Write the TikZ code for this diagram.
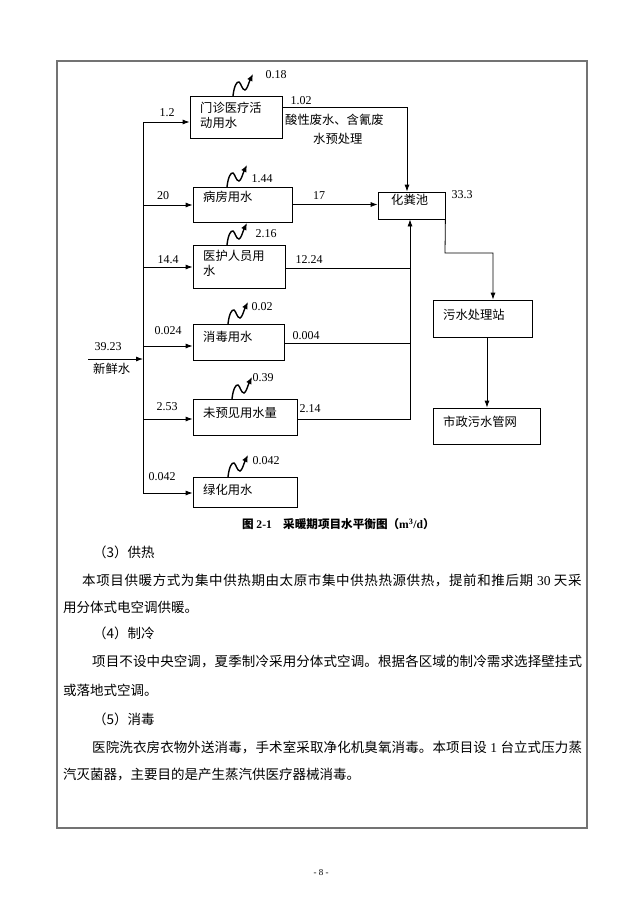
\documentclass[tikz,border=0pt]{standalone}
\usepackage{fontspec}
\setmainfont{Liberation Serif}
\newfontfamily\cjk{Noto Sans CJK SC}
\usetikzlibrary{arrows.meta}
\makeatletter
\newcommand\spr[1]{\@tfor\sprch:=#1\do{\sprch\hskip0pt plus 1fil}}
\makeatother
\newcommand\mybox[5]{\node[box, minimum width={(#4-#2)*1pt}, minimum height={(#5-#3)*1pt}] (#1) at ({(#2+#4)/2},{(#3+#5)/2}) {};}
\newcommand\evap[2]{\begin{scope}[shift={(#1,#2)}]\draw[evapline] (0,0) .. controls (1,-10) and (4,-15) .. (6,-14) .. controls (8,-13) and (9,-6) .. (12,-6) .. controls (14,-6) and (16,-14) .. (20,-22);\end{scope}}
\begin{document}
\begin{tikzpicture}[x=1pt,y=-1pt,
  box/.style={draw, line width=0.8pt, inner sep=0pt},
  conn/.style={line width=0.8pt},
  arr/.style={conn, -{Latex[length=7pt,width=5pt]}},
  evapline/.style={line width=1.4pt, -{Latex[length=7pt,width=6pt]}},
  num/.style={inner sep=0pt, font=\fontsize{12}{14}\selectfont},
  ctxt/.style={inner sep=0pt, anchor=west, font=\cjk\fontsize{12.3}{15}\selectfont},
  body/.style={inner sep=0pt, anchor=west, font=\cjk\fontsize{13.5}{16}\selectfont},
  captxt/.style={inner sep=0pt, anchor=west, font=\cjk\bfseries\fontsize{11.6}{13}\selectfont},
  ]
\useasboundingbox[fill=white] (0,0) rectangle (621,908);
\draw[line width=1.3pt, draw=black!55] (57,61) rectangle (587,828);

% boxes
\mybox{b1}{190}{96}{282}{138}
\mybox{b2}{193}{187}{292}{222}
\mybox{b3}{193}{245}{285}{288}
\mybox{b4}{193}{324}{284}{360}
\mybox{b5}{193}{399}{297}{435}
\mybox{b6}{193}{477}{297}{507}
\mybox{hf}{378}{192}{445}{219}
\mybox{ws}{433}{300}{532}{337}
\mybox{sz}{433}{408}{540}{444}

% box texts
\node[ctxt, align=left] (t1) at (200,115.5) {门诊医疗活\\动用水};
\node[ctxt] (t2) at (203,197) {病房用水};
\node[ctxt, align=left] (t3) at (203,263) {医护人员用\\水};
\node[ctxt] (t4) at (203,337) {消毒用水};
\node[ctxt] (t5) at (203,413) {未预见用水量};
\node[ctxt] (t6) at (203,490) {绿化用水};
\node[ctxt] (thf) at (391,200) {化粪池};
\node[ctxt] (tws) at (443,315) {污水处理站};
\node[ctxt] (tsz) at (443,422) {市政污水管网};

% fresh water and trunk
\coordinate (src) at (88,359);
\coordinate (jsrc) at (143,359);
\coordinate (j1) at (143,122);
\coordinate (j2) at (143,205);
\coordinate (j3) at (143,267);
\coordinate (j4) at (143,346);
\coordinate (j5) at (143,419);
\coordinate (j6) at (143,493);
\draw[arr] (src) -- (jsrc);
\draw[conn] (j1) -- (j6);
\draw[arr] (j1) -- (b1.west |- j1);
\draw[arr] (j2) -- (b2.west |- j2);
\draw[arr] (j3) -- (b3.west |- j3);
\draw[arr] (j4) -- (b4.west |- j4);
\draw[arr] (j5) -- (b5.west |- j5);
\draw[arr] (j6) -- (b6.west |- j6);
\node[num] (l0) at (108,347) {39.23};
\node[ctxt] (lfw) at (93,369) {新鲜水};
\node[num] (i1) at (167,113) {1.2};
\node[num] (i2) at (163,196) {20};
\node[num] (i3) at (168,260) {14.4};
\node[num] (i4) at (168,331) {0.024};
\node[num] (i5) at (167,407) {2.53};
\node[num] (i6) at (162,477) {0.042};

% evaporation
\evap{233}{96}
\evap{227}{187}
\evap{227}{245}
\evap{228}{324}
\evap{232}{399}
\evap{228}{477}
\node[num] (e1) at (276,75) {0.18};
\node[num] (e2) at (262,179) {1.44};
\node[num] (e3) at (266,234) {2.16};
\node[num] (e4) at (262,307) {0.02};
\node[num] (e5) at (263,378) {0.39};
\node[num] (e6) at (266,461) {0.042};

% outputs to septic tank
\coordinate (c1) at (407,107);
\draw[arr] (b1.east |- c1) -- (c1) -- (c1 |- hf.north);
\draw[arr] (b2.east) -- (b2.east -| hf.west);
\coordinate (m3) at (410,268);
\coordinate (m4) at (410,343);
\coordinate (m5) at (410,419);
\draw[conn] (b3.east |- m3) -- (m3);
\draw[conn] (b4.east |- m4) -- (m4);
\draw[arr] (b5.east |- m5) -- (m5) -- (m5 |- hf.south);
\node[num] (o1) at (301,101) {1.02};
\node[ctxt] (pre1) at (285,120) {酸性废水、含氰废};
\node[ctxt] (pre2) at (313,139) {水预处理};
\node[num] (o2) at (319,196) {17};
\node[num] (o3) at (309,260) {12.24};
\node[num] (o4) at (306,336) {0.004};
\node[num] (o5) at (310,409) {2.14};
\node[num] (o6) at (462,195) {33.3};

% septic tank -> treatment -> sewer
\coordinate (k1) at (445,253);
\coordinate (k2) at (493,253);
\draw[arr] (hf.south east) -- (k1) -- (k2) -- (k2 |- ws.north);
\coordinate (k3) at (487,370);
\draw[arr] (ws.south -| k3) -- (sz.north -| k3);

% caption
\node[captxt] (cap1) at (242,524) {图 {\rmfamily\bfseries 2-1}};
\node[captxt] (cap2) at (283,524) {采暖期项目水平衡图（{\rmfamily\bfseries m\textsuperscript{3}/d}）};

% body text
\node[body] (p1) at (93,552) {（3）供热};
\node[body] (p2) at (82,580) {\makebox[500pt][s]{\spr{本项目供暖方式为集中供热期由太原市集中供热热源供热，提前和推后期}{\rmfamily\ 30\ }\spr{天采}}};
\node[body] (p3) at (63,607) {用分体式电空调供暖。};
\node[body] (p4) at (93,633) {（4）制冷};
\node[body] (p5) at (92,661) {\makebox[490pt][s]{\spr{项目不设中央空调，夏季制冷采用分体式空调。根据各区域的制冷需求选择壁挂式}}};
\node[body] (p6) at (63,690) {或落地式空调。};
\node[body] (p7) at (93,719) {（5）消毒};
\node[body] (p8) at (92,747) {\makebox[490pt][s]{\spr{医院洗衣房衣物外送消毒，手术室采取净化机臭氧消毒。本项目设}{\rmfamily\ 1\ }\spr{台立式压力蒸}}};
\node[body] (p9) at (63,775) {汽灭菌器，主要目的是产生蒸汽供医疗器械消毒。};

\node[inner sep=0pt, font=\fontsize{9}{11}\selectfont] (pg) at (321,873) {- 8 -};
\end{tikzpicture}
\end{document}
